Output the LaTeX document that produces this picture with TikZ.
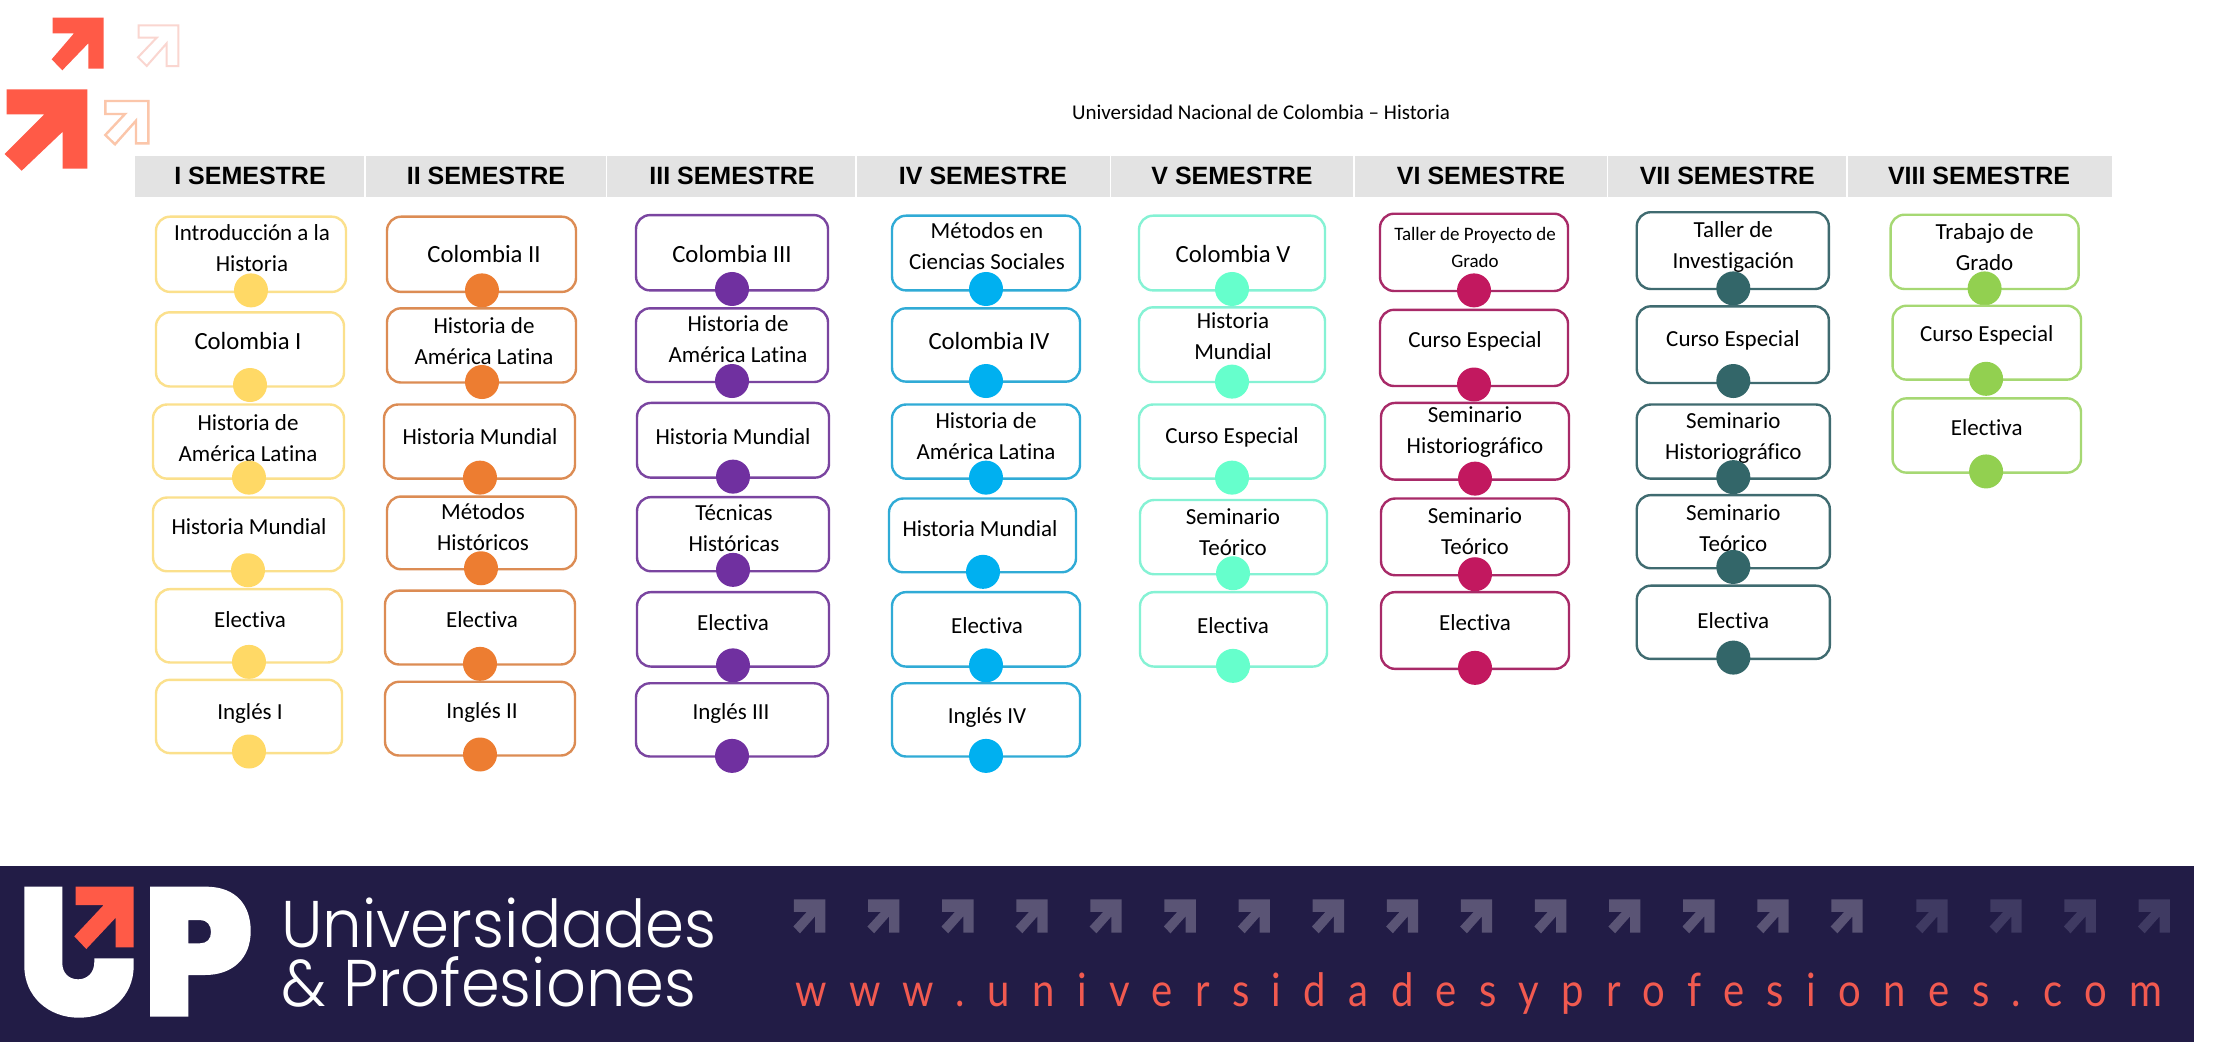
\documentclass[tikz,border=0pt]{standalone}
\usepackage{fontspec}
\usepackage{graphicx}
\usetikzlibrary{fit}
\setmainfont[Ligatures=CommonOff]{Carlito}
\newfontfamily\hdfont{Liberation Sans}
\newfontfamily\popfont{Poppins Light}
\newfontfamily\urlfont[LetterSpace=56]{Lato}
\definecolor{ylwB}{HTML}{FBE08C}\definecolor{ylwD}{HTML}{FFD966}
\definecolor{orgB}{HTML}{DC8C54}\definecolor{orgD}{HTML}{ED7D31}
\definecolor{purB}{HTML}{7A45A0}\definecolor{purD}{HTML}{7030A0}
\definecolor{cyaB}{HTML}{30ABD6}\definecolor{cyaD}{HTML}{00B0F0}
\definecolor{minB}{HTML}{85F2D4}\definecolor{minD}{HTML}{66FFCC}
\definecolor{crmB}{HTML}{A82A68}\definecolor{crmD}{HTML}{C2185F}
\definecolor{tealB}{HTML}{3F6B70}\definecolor{tealD}{HTML}{336669}
\definecolor{grnB}{HTML}{A6D873}\definecolor{grnD}{HTML}{92D050}
\definecolor{bandgray}{HTML}{E3E3E3}
\definecolor{navy}{HTML}{221C46}
\definecolor{coral}{HTML}{FF5A47}
\definecolor{urlcoral}{HTML}{F15A50}
\definecolor{arrowA}{HTML}{5A5475}
\definecolor{arrowB}{HTML}{3F3A62}
\tikzset{
  course/.style={rounded corners=14pt,line width=2.4pt,inner sep=0pt},
  coursetext/.style={align=center,inner sep=0pt,text=black},
  coursedot/.style={circle,inner sep=0pt,minimum size=34pt},
  headcell/.style={font=\hdfont\bfseries\fontsize{25}{28}\selectfont,inner sep=0pt,text=black},
  sepline/.style={white,line width=1.5pt},
}
\newcommand{\cb}[8]{%
  \node[course,draw=#2B,fit={#3 #4}] (#1) {};
  \node[coursetext,font=\fontsize{#7}{31}\selectfont] (#1t) at #6 {#8};
  \node[coursedot,fill=#2D] (#1d) at #5 {};
}
\newcommand{\arrowpath}{(2,0) -- (100,0) -- (100,98) -- (68,98) -- (68,50) -- (21,100) -- (0,80) -- (42,37) -- (2,37) -- cycle}
\begin{document}
\begin{tikzpicture}[x=1pt,y=-1pt]
\useasboundingbox (0,0) rectangle (2213,1058);
\fill[white] (0,0) rectangle (2213,1058);
% top-left arrows
\fill[coral] (52.7,17.7) -- (103.7,17.7) -- (103.7,68.7) -- (88.3,68.7) -- (88.3,43.3) -- (62.3,70.3) -- (51.7,59.3) -- (74,33.3) -- (52.7,33.3) -- cycle;
\fill[coral] (6.7,89.3) -- (87.3,89.3) -- (87.3,168.7) -- (62.7,168.7) -- (62.7,131.7) -- (21.7,170.7) -- (4.7,154) -- (44.3,114.3) -- (6.7,114.3) -- cycle;
\draw[color={rgb,255:red,250;green,214;blue,208},line width=2pt] (138.7,25.3) -- (178.3,25.3) -- (178.3,66) -- (166.7,66) -- (166.7,43.3) -- (146.7,66) -- (138,57.3) -- (156.7,37.7) -- (138.7,37.7) -- cycle;
\draw[color={rgb,255:red,251;green,198;blue,170},line width=2.4pt] (105.3,101) -- (148.3,101) -- (148.3,143.3) -- (136,143.3) -- (136,120.7) -- (115,144.3) -- (105.3,135) -- (125,114) -- (105.3,114) -- cycle;
% title
\node[inner sep=0pt,font=\fontsize{21}{25}\selectfont] (title) at (1261,112) {Universidad Nacional de Colombia – Historia};
% header band
\fill[bandgray] (135,156) rectangle (2112,197);
\foreach \sx in {365,606.7,856,1110.7,1354,1607.5,1847}{\draw[sepline] (\sx,156) -- (\sx,197);}
\node[headcell] (h1) at (250,176) {I SEMESTRE};
\node[headcell] (h2) at (486,176) {II SEMESTRE};
\node[headcell] (h3) at (732,176) {III SEMESTRE};
\node[headcell] (h4) at (983,176) {IV SEMESTRE};
\node[headcell] (h5) at (1232,176) {V SEMESTRE};
\node[headcell] (h6) at (1481,176) {VI SEMESTRE};
\node[headcell] (h7) at (1727.3,176) {VII SEMESTRE};
\node[headcell] (h8) at (1979,176) {VIII SEMESTRE};
\begin{scope}[shift={(0,0.571)},y=-0.99592pt]
% column I
\cb{a1}{ylw}{(156,217)}{(346,292.5)}{(251,291)}{(252,248.4)}{23}{Introducción a la\\Historia}
\cb{a2}{ylw}{(156,313)}{(344,387.5)}{(250,386)}{(248,342)}{24.7}{Colombia I}
\cb{a3}{ylw}{(153,405.6)}{(344,480)}{(249,479)}{(248,439)}{23}{Historia de\\América Latina}
\cb{a4}{ylw}{(153,499)}{(344,573)}{(248,572)}{(249,528)}{23}{Historia Mundial}
\cb{a5}{ylw}{(156,591)}{(342,664.6)}{(249,664)}{(250,621.5)}{23}{Electiva}
\cb{a6}{ylw}{(156,682)}{(342,755.6)}{(249,754)}{(250,716)}{23}{Inglés I}
% column II
\cb{b1}{org}{(387,217)}{(576,292.5)}{(482,291)}{(484,254)}{24.7}{Colombia II}
\cb{b2}{org}{(387,309)}{(576,383.5)}{(482,383)}{(484,342)}{23}{Historia de\\América Latina}
\cb{b3}{org}{(384,405.6)}{(575,480)}{(480,479)}{(480,437.5)}{23}{Historia Mundial}
\cb{b4}{org}{(387,498)}{(576,571)}{(481,570)}{(483,529)}{23}{Métodos\\Históricos}
\cb{b5}{org}{(385,592.5)}{(575,666.6)}{(480,666)}{(482,621.5)}{23}{Electiva}
\cb{b6}{org}{(385,684)}{(575,758)}{(480,757)}{(482,714.4)}{23}{Inglés II}
% column III
\cb{c1}{pur}{(636,215.4)}{(828,291)}{(732,289.6)}{(732,254)}{24.7}{Colombia III}
\cb{c2}{pur}{(636,309)}{(828,383)}{(732,382)}{(738,340)}{23}{Historia de\\América Latina}
\cb{c3}{pur}{(637,404)}{(829,479)}{(733,478)}{(733,437.5)}{23}{Historia Mundial}
\cb{c4}{pur}{(637,498.6)}{(829,573)}{(733,571.6)}{(734,530)}{23}{Técnicas\\Históricas}
\cb{c5}{pur}{(637,594)}{(829,668.7)}{(733,667.5)}{(733,624.4)}{23}{Electiva}
\cb{c6}{pur}{(636,685.5)}{(828,759)}{(732,758.4)}{(731,716)}{23}{Inglés III}
% column IV
\cb{d1}{cya}{(892,216)}{(1080,291)}{(986,289.6)}{(987,247)}{23}{Métodos en\\Ciencias Sociales}
\cb{d2}{cya}{(892,309)}{(1080,382.6)}{(986,382)}{(989,341.6)}{24.7}{Colombia IV}
\cb{d3}{cya}{(892,405.6)}{(1080,480)}{(986,479)}{(986,437.5)}{23}{Historia de\\América Latina}
\cb{d4}{cya}{(889,500)}{(1076,574)}{(983,573.6)}{(980,530)}{23}{Historia Mundial}
\cb{d5}{cya}{(892,594)}{(1080,668.7)}{(986,667.5)}{(987,627.7)}{23}{Electiva}
\cb{d6}{cya}{(892,685.5)}{(1080,759)}{(986,758.4)}{(987,720)}{23}{Inglés IV}
% column V
\cb{e1}{min}{(1139,216)}{(1325,291)}{(1232,289.6)}{(1233,254)}{24.7}{Colombia V}
\cb{e2}{min}{(1139,308)}{(1325,383)}{(1232,382.6)}{(1233,336.7)}{23}{Historia\\Mundial}
\cb{e3}{min}{(1139,405.6)}{(1325,480)}{(1232,479)}{(1232,438.9)}{23}{Curso Especial}
\cb{e4}{min}{(1140,501.5)}{(1327,576)}{(1233,575)}{(1233,534)}{23}{Seminario\\Teórico}
\cb{e5}{min}{(1140,594)}{(1327,668.7)}{(1233,668)}{(1233,627.7)}{23}{Electiva}
% column VI
\cb{f1}{crm}{(1380,214)}{(1568,291.6)}{(1474,291)}{(1475,248)}{19}{Taller de Proyecto de\\[-4pt]Grado}
\cb{f2}{crm}{(1380,310.5)}{(1568,387)}{(1474,385.5)}{(1475,341.8)}{23}{Curso Especial}
\cb{f3}{crm}{(1381,404)}{(1569,481)}{(1475,480)}{(1475,433.4)}{23}{Seminario\\Historiográfico}
\cb{f4}{crm}{(1381,500)}{(1569,577)}{(1475,576)}{(1475,533)}{23}{Seminario\\Teórico}
\cb{f5}{crm}{(1381,594)}{(1569,671)}{(1475,670)}{(1475,624.4)}{23}{Electiva}
\begin{scope}[shift={(7.66,0)},x=0.99518pt]
% column VII
\cb{g1}{teal}{(1637,212.5)}{(1830,289.6)}{(1734,289)}{(1734,247.4)}{23}{Taller de\\Investigación}
\cb{g2}{teal}{(1637,307)}{(1830,384)}{(1734,382)}{(1733.6,341.4)}{23}{Curso Especial}
\cb{g3}{teal}{(1637,405.6)}{(1831,480)}{(1734,478.5)}{(1734,438.9)}{23}{Seminario\\Historiográfico}
\cb{g4}{teal}{(1637,496.6)}{(1831,570)}{(1734,568.7)}{(1734,529.7)}{23}{Seminario\\Teórico}
\cb{g5}{teal}{(1637,587.5)}{(1831,661)}{(1734,659.7)}{(1734,622.4)}{23}{Electiva}
% column VIII
\cb{k1}{grn}{(1892,215)}{(2081,289.6)}{(1986.5,289)}{(1986.5,247.4)}{23}{Trabajo de\\Grado}
\cb{k2}{grn}{(1894,306.4)}{(2083.4,380.6)}{(1988,379.8)}{(1988.6,336.4)}{23}{Curso Especial}
\cb{k3}{grn}{(1894,399.4)}{(2083.4,474)}{(1988,472.8)}{(1988.6,429)}{23}{Electiva}
\end{scope}
\end{scope}
% footer
\fill[navy] (0,866) rectangle (2194,1042);
% U
\fill[white] (24.3,886.7) -- (62.3,886.7) -- (62.3,963) .. controls (62.3,973) and (69,979.3) .. (78,979.3) .. controls (87,979.3) and (94.3,973) .. (94.3,962) -- (94.3,958.3) -- (133.7,958.3) -- (133.7,966) .. controls (133.7,996) and (110,1017.7) .. (79,1017.7) .. controls (48,1017.7) and (24.3,996) .. (24.3,966) -- cycle;
% logo arrow
\fill[coral] (75.7,886.7) -- (133.7,886.7) -- (133.7,947.3) -- (115.7,947.3) -- (115.7,917.7) -- (86.3,949) -- (74.3,936.3) -- (103.7,905) -- (75.7,905) -- cycle;
% P
\fill[white,even odd rule] (150,886.7) -- (208,886.7) .. controls (236,887.5) and (250.7,905) .. (250.7,931) .. controls (250.7,958) and (233,975) .. (205,975) -- (188.3,975) -- (188.3,1016.7) -- (150,1016.7) -- cycle
  (188.3,920) -- (200,920) .. controls (207,920) and (211,925) .. (211,932) .. controls (211,939) and (207,943.3) .. (200,943.3) -- (188.3,943.3) -- cycle;
\node[anchor=base west,inner sep=0pt,text=white,font=\popfont\fontsize{66}{70}\selectfont] (uni) at (281,947) {\scalebox{0.95}[1]{Universidades}};
\node[anchor=base west,inner sep=0pt,text=white,font=\popfont\fontsize{66}{70}\selectfont] (pro) at (281,1006.7) {\scalebox{0.945}[1]{\& Profesiones}};
% arrow row
\foreach \i in {0,...,14}{
  \begin{scope}[shift={(793.3+74.1*\i,899.3)},xscale=0.32,yscale=0.34]
    \fill[arrowA] \arrowpath;
  \end{scope}
}
\foreach \i in {0,...,3}{
  \begin{scope}[shift={(1915.6+74.1*\i,899.3)},xscale=0.32,yscale=0.34]
    \fill[arrowB] \arrowpath;
  \end{scope}
}
\node[anchor=base west,inner sep=0pt,text=urlcoral,font=\urlfont\fontsize{46}{50}\selectfont] (url) at (795,1006.7) {\scalebox{0.87}[1]{www.universidadesyprofesiones.com}};
\end{tikzpicture}
\end{document}
